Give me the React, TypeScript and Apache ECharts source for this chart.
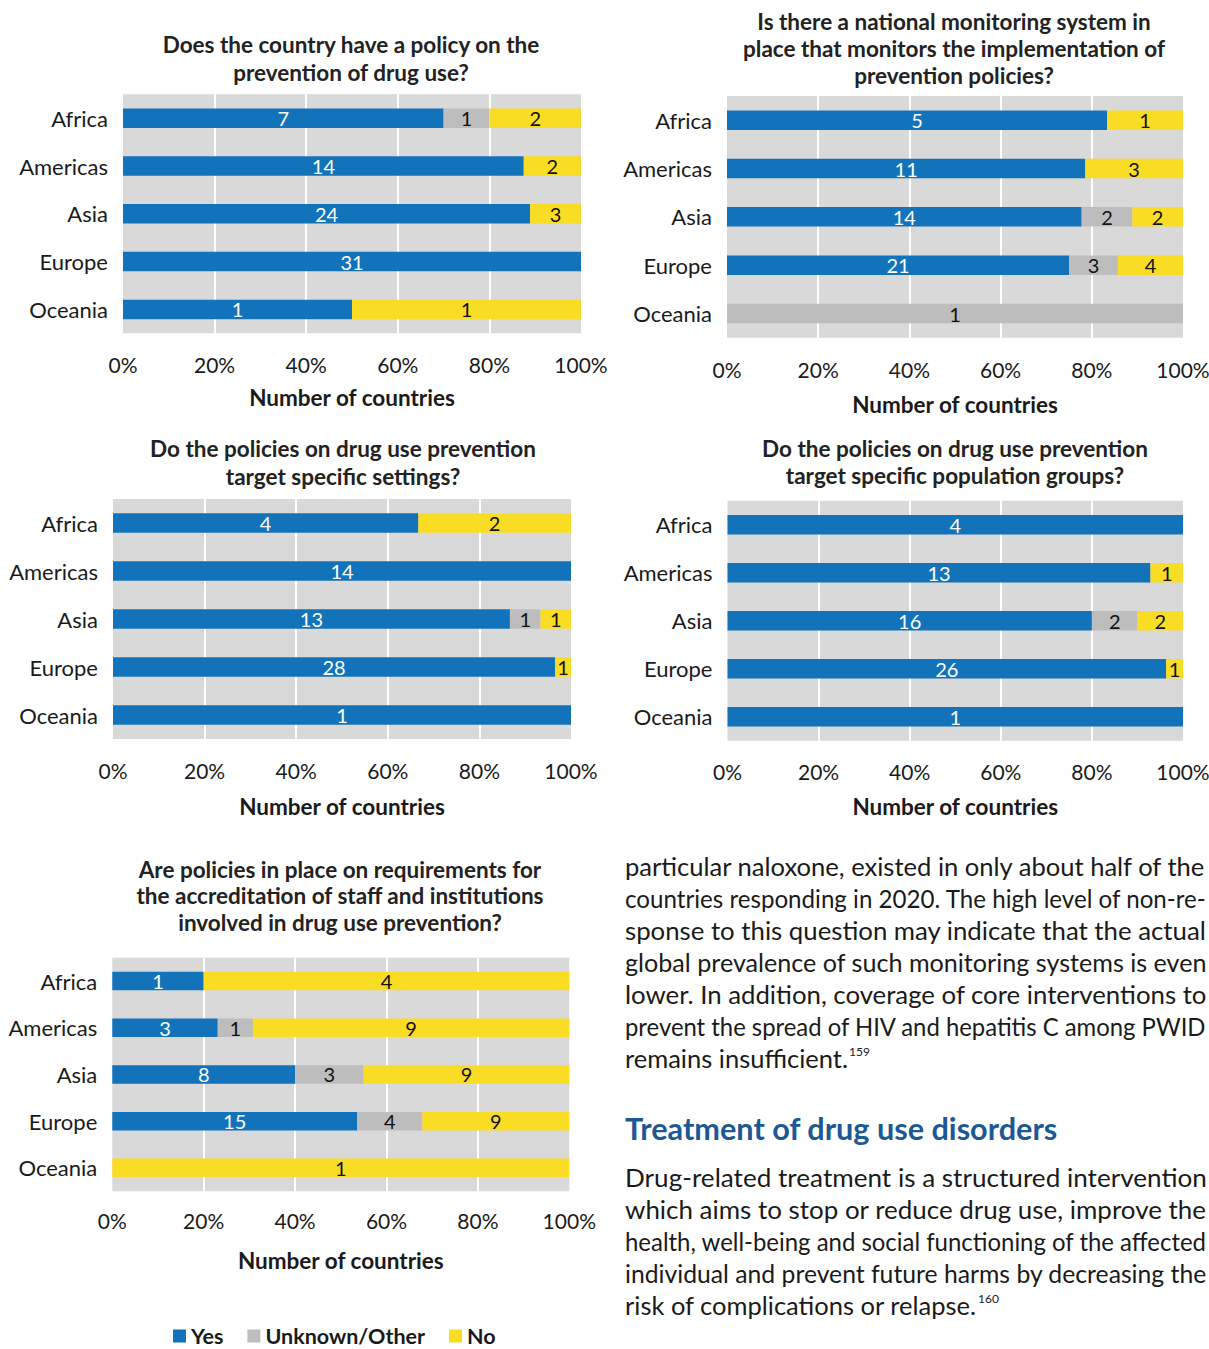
import React, { useEffect, useRef } from "react";
import * as echarts from "echarts";

// ---------- DATA ----------
const regions = ["Africa", "Americas", "Asia", "Europe", "Oceania"];
const seriesNames = ["Yes", "Unknown/Other", "No"];

const c1Yes = [7, 14, 24, 31, 1];
const c1Unknown = [1, 0, 0, 0, 0];
const c1No = [2, 2, 3, 0, 1];

const c2Yes = [5, 11, 14, 21, 0];
const c2Unknown = [0, 0, 2, 3, 1];
const c2No = [1, 3, 2, 4, 0];

const c3Yes = [4, 14, 13, 28, 1];
const c3Unknown = [0, 0, 1, 0, 0];
const c3No = [2, 0, 1, 1, 0];

const c4Yes = [4, 13, 16, 26, 1];
const c4Unknown = [0, 0, 2, 0, 0];
const c4No = [0, 1, 2, 1, 0];

const c5Yes = [1, 3, 8, 15, 0];
const c5Unknown = [0, 1, 3, 4, 0];
const c5No = [4, 9, 9, 9, 1];

const chartTitles = [
  "Does the country have a policy on the\nprevention of drug use?",
  "Is there a national monitoring system in\nplace that monitors the implementation of\nprevention policies?",
  "Do the policies on drug use prevention\ntarget specific settings?",
  "Do the policies on drug use prevention\ntarget specific population groups?",
  "Are policies in place on requirements for\nthe accreditation of staff and institutions\ninvolved in drug use prevention?",
];
const xAxisName = "Number of countries";

const para1 = [
  "particular naloxone, existed in only about half of the",
  "countries responding in 2020. The high level of non-re-",
  "sponse to this question may indicate that the actual",
  "global prevalence of such monitoring systems is even",
  "lower. In addition, coverage of core interventions to",
  "prevent the spread of HIV and hepatitis C among PWID",
  "remains insufficient.",
];
const note1 = "159";
const heading = "Treatment of drug use disorders";
const para2 = [
  "Drug-related treatment is a structured intervention",
  "which aims to stop or reduce drug use, improve the",
  "health, well-being and social functioning of the affected",
  "individual and prevent future harms by decreasing the",
  "risk of complications or relapse.",
];
const note2 = "160";

const chartData = [
  [c1Yes, c1Unknown, c1No],
  [c2Yes, c2Unknown, c2No],
  [c3Yes, c3Unknown, c3No],
  [c4Yes, c4Unknown, c4No],
  [c5Yes, c5Unknown, c5No],
];

// ---------- LAYOUT / STYLE ----------
const FONT = "Lato";
const TEXT = "#1a1a1a";
const COLORS = ["#1273BB", "#BDBDBD", "#F9DC24"];
const PLOT_BG = "#D9D9D9";

const layouts = [
  { left: 123, top: 94.3, width: 458, height: 239, titleX: 351, titleTop: 30, titleLH: 28, labelMargin: 21, nameGap: 53, barW: 19.5 },
  { left: 727, top: 96, width: 456, height: 241.7, titleX: 954, titleTop: 7.5, titleLH: 27, labelMargin: 20.8, nameGap: 55.5, barW: 19.5 },
  { left: 113, top: 499, width: 458, height: 240, titleX: 343, titleTop: 434, titleLH: 28, labelMargin: 20.5, nameGap: 56, barW: 19.5 },
  { left: 727.5, top: 500.7, width: 455.5, height: 240, titleX: 955, titleTop: 434.5, titleLH: 27, labelMargin: 19.8, nameGap: 54.5, barW: 19.5 },
  { left: 112.3, top: 957.7, width: 457, height: 233.5, titleX: 340, titleTop: 856, titleLH: 26.5, labelMargin: 18.3, nameGap: 58, barW: 18.5 },
];

const TEXT_X = 625;
const TEXT_W = 582;
const PARA_FS = 25.5;
const para1Y = [866, 898, 930, 962, 994, 1026, 1058];
const headingY = 1128;
const para2Y = [1177, 1209, 1241, 1273, 1305];

function measure(text: string, font: string): number {
  const c = document.createElement("canvas");
  const ctx = c.getContext("2d");
  if (!ctx) return text.length * 11;
  ctx.font = font;
  return ctx.measureText(text).width;
}

function buildParagraph(lines: string[], ys: number[], note: string): any[] {
  const els: any[] = [];
  const font = `${PARA_FS}px ${FONT}`;
  lines.forEach((line, i) => {
    const w = measure(line, font);
    const last = i === lines.length - 1;
    const sx = last ? Math.min(1, TEXT_W / w) : TEXT_W / w;
    els.push({
      type: "text",
      x: TEXT_X,
      y: ys[i],
      scaleX: sx,
      silent: true,
      style: { text: line, fontSize: PARA_FS, fontFamily: FONT, fill: TEXT, verticalAlign: "middle", align: "left" },
    });
    if (last) {
      els.push({
        type: "text",
        x: TEXT_X + w * sx + 1,
        y: ys[i] - 7,
        silent: true,
        style: { text: note, fontSize: 12, fontFamily: FONT, fill: TEXT, verticalAlign: "middle", align: "left" },
      });
    }
  });
  return els;
}

export default function App() {
  const ref = useRef<HTMLDivElement>(null);
  useEffect(() => {
    if (!ref.current) return;
    const chart = echarts.init(ref.current, undefined, { renderer: "svg" });

    const grid = layouts.map((l) => ({
      left: l.left,
      top: l.top,
      width: l.width,
      height: l.height,
      show: true,
      backgroundColor: PLOT_BG,
      borderWidth: 0,
      containLabel: false,
      outerBoundsMode: "none",
    }));

    const xAxis = layouts.map((l, i) => ({
      type: "value",
      gridIndex: i,
      min: 0,
      max: 100,
      interval: 20,
      axisLine: { show: false },
      axisTick: { show: false },
      axisLabel: { formatter: "{value}%", fontSize: 21, lineHeight: 21, color: TEXT, fontFamily: FONT, margin: l.labelMargin },
      splitLine: { show: true, showMinLine: false, showMaxLine: false, lineStyle: { color: "#ffffff", width: 2 } },
      name: xAxisName,
      nameLocation: "middle",
      nameGap: l.nameGap,
      nameTextStyle: { fontSize: 22.5, lineHeight: 22, fontWeight: "bold", color: TEXT, fontFamily: FONT },
    }));

    const yAxis = layouts.map((_l, i) => ({
      type: "category",
      gridIndex: i,
      data: regions,
      inverse: true,
      axisLine: { show: false },
      axisTick: { show: false },
      axisLabel: { fontSize: 22, color: TEXT, fontFamily: FONT, margin: 15 },
    }));

    const series: any[] = [];
    chartData.forEach((sets, ci) => {
      const totals = regions.map((_r, j) => sets.reduce((a, s) => a + s[j], 0));
      sets.forEach((counts, si) => {
        series.push({
          type: "bar",
          name: seriesNames[si],
          xAxisIndex: ci,
          yAxisIndex: ci,
          stack: "s" + ci,
          barWidth: layouts[ci].barW,
          itemStyle: { color: COLORS[si] },
          emphasis: { disabled: true },
          label: {
            show: true,
            position: "inside",
            color: si === 0 ? "#ffffff" : "#111111",
            fontSize: 20,
            fontFamily: FONT,
            formatter: (p: any) => (p.data && p.data.count ? String(p.data.count) : ""),
          },
          data: counts.map((c, j) => ({ value: totals[j] ? (c / totals[j]) * 100 : 0, count: c })),
        });
      });
    });

    const title = layouts.map((l, i) => ({
      text: chartTitles[i],
      left: l.titleX,
      top: l.titleTop,
      textAlign: "center",
      padding: 0,
      textStyle: { fontSize: 22.5, fontWeight: "bold", lineHeight: l.titleLH, color: "#222222", fontFamily: FONT },
    }));

    const headingFont = `bold 30px ${FONT}`;
    const hw = measure(heading, headingFont);
    const headingFs = 30 * (433 / hw);

    const graphic = [
      ...buildParagraph(para1, para1Y, note1),
      {
        type: "text",
        x: TEXT_X,
        y: headingY,
        silent: true,
        style: { text: heading, fontSize: headingFs, fontWeight: "bold", fontFamily: FONT, fill: "#1B5894", verticalAlign: "middle", align: "left" },
      },
      ...buildParagraph(para2, para2Y, note2),
    ];

    chart.setOption({
      animation: false,
      title,
      legend: {
        data: seriesNames,
        left: 173,
        top: 1325,
        padding: 0,
        icon: "rect",
        itemWidth: 13,
        itemHeight: 13,
        itemGap: 24,
        selectedMode: false,
        textStyle: { fontSize: 21.5, lineHeight: 20, fontWeight: "bold", color: TEXT, fontFamily: FONT },
      },
      grid,
      xAxis,
      yAxis,
      series,
      graphic,
    });

    return () => chart.dispose();
  }, []);

  return <div ref={ref} style={{ position: "absolute", left: 0, top: 0, width: 1209, height: 1349 }} />;
}
